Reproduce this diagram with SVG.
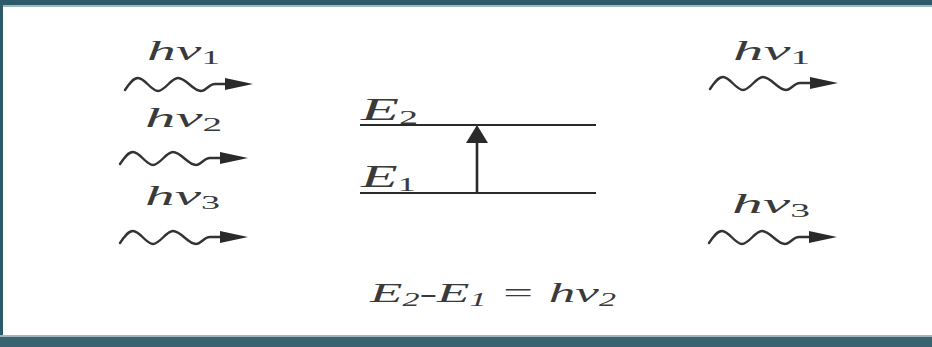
<svg xmlns="http://www.w3.org/2000/svg" xmlns:xlink="http://www.w3.org/1999/xlink" width="932" height="347" viewBox="0 0 932 347">
<style>
.lbl{font-family:"Liberation Serif","DejaVu Serif",serif;font-style:italic;fill:#3a3a3a}
.sub{font-style:normal}
.line{stroke:#2a2a2a;stroke-width:2;fill:none}
.wave{stroke:#333;stroke-width:2.4;fill:none;stroke-linecap:round}
.head{fill:#2a2a2a}
</style>
<defs>
<g id="photon">
<path class="wave" d="M0,6 C4,0 8,-6 13,-6 C20,-6 26,7 33,7 C40,7 46,-6 53,-6 C61,-6 68,7 76,7 C81,7 84,0 90,0 L104,0"/>
<polygon class="head" points="100,-6 128,0 100,6"/>
</g>
</defs>
<rect x="0" y="0" width="932" height="347" fill="#ffffff"/>
<rect x="0" y="0" width="932" height="5" fill="#2d5a68"/>
<rect x="0" y="5" width="932" height="2" fill="#9fb8bf"/>
<rect x="0" y="0" width="3" height="347" fill="#2d5a68"/>
<rect x="0" y="335" width="932" height="2" fill="#9fb8bf"/>
<rect x="0" y="337" width="932" height="10" fill="#3a6370"/>

<g id="connectors">
<use xlink:href="#photon" href="#photon" x="125" y="84"/>
<use xlink:href="#photon" href="#photon" x="120" y="158"/>
<use xlink:href="#photon" href="#photon" x="120" y="237"/>
<use xlink:href="#photon" href="#photon" x="710" y="83"/>
<use xlink:href="#photon" href="#photon" x="709" y="237"/>
<line class="line" x1="477" y1="193" x2="477" y2="140" style="stroke-width:2.6"/>
<polygon class="head" points="466,143 477,125 488,143"/>
</g>

<g id="level-E2">
<line class="line" x1="360" y1="125" x2="596" y2="125"/>
<text class="lbl" x="361" y="120" font-size="31" textLength="57" lengthAdjust="spacingAndGlyphs">E<tspan class="sub" font-size="19" dy="4">2</tspan></text>
</g>
<g id="level-E1">
<line class="line" x1="360" y1="193" x2="596" y2="193"/>
<text class="lbl" x="361" y="187" font-size="31" textLength="55" lengthAdjust="spacingAndGlyphs">E<tspan class="sub" font-size="19" dy="4">1</tspan></text>
</g>

<g id="in-hv1"><text class="lbl" x="147" y="60" font-size="28" textLength="73" lengthAdjust="spacingAndGlyphs">hν<tspan class="sub" font-size="18" dy="4">1</tspan></text></g>
<g id="in-hv2"><text class="lbl" x="145" y="127" font-size="28" textLength="77" lengthAdjust="spacingAndGlyphs">hν<tspan class="sub" font-size="18" dy="4">2</tspan></text></g>
<g id="in-hv3"><text class="lbl" x="145" y="205" font-size="28" textLength="75" lengthAdjust="spacingAndGlyphs">hν<tspan class="sub" font-size="18" dy="4">3</tspan></text></g>
<g id="out-hv1"><text class="lbl" x="733" y="60" font-size="28" textLength="77" lengthAdjust="spacingAndGlyphs">hν<tspan class="sub" font-size="18" dy="4">1</tspan></text></g>
<g id="out-hv3"><text class="lbl" x="732" y="213" font-size="28" textLength="78" lengthAdjust="spacingAndGlyphs">hν<tspan class="sub" font-size="18" dy="4">3</tspan></text></g>

<g id="equation"><text class="lbl" x="370" y="302" font-size="28" textLength="246" lengthAdjust="spacingAndGlyphs">E<tspan font-size="18" dy="4">2</tspan><tspan dy="-4">-E</tspan><tspan font-size="18" dy="4">1</tspan><tspan dy="-4"> = hν</tspan><tspan font-size="18" dy="4">2</tspan></text></g>
</svg>
